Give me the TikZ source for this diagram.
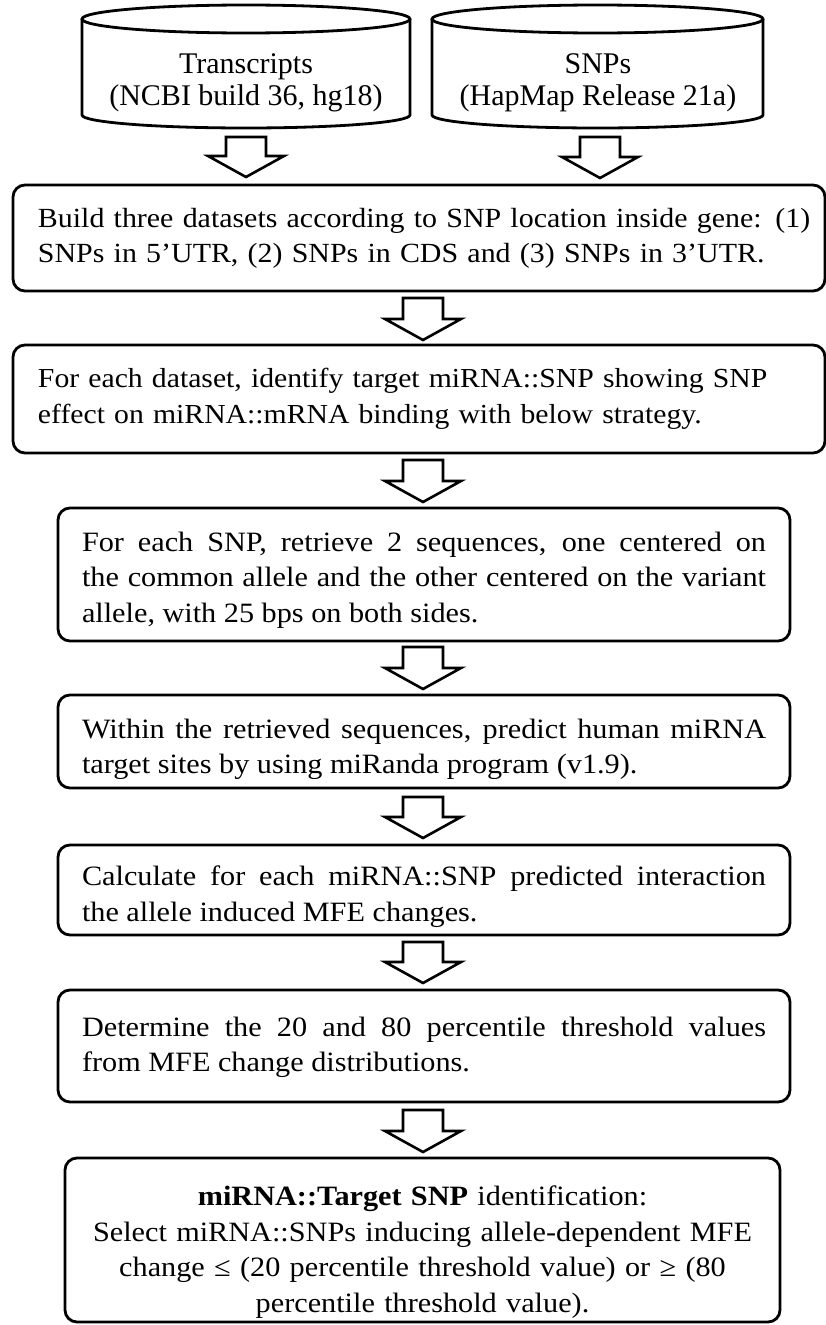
\documentclass[tikz,border=0pt]{standalone}
\usepackage{fontspec}
\setmainfont[FakeStretch=1.08]{Liberation Serif}
\newfontfamily\cylfont{Liberation Serif}
\usetikzlibrary{calc}
\newcommand{\blockarr}[2]{%
  \draw[barrow] let \p1=#1, \p2=#2 in
    (\x1-20pt,\y1) -- (\x1+20pt,\y1) -- (\x1+20pt,\y2+21pt) -- (\x1+38pt,\y2+21pt)
    -- (\x1,\y2) -- (\x1-38pt,\y2+21pt) -- (\x1-20pt,\y2+21pt) -- cycle;}
\newcommand{\lift}[1]{\rule{0pt}{\dimexpr 20pt+#1\relax}}
\begin{document}
\begin{tikzpicture}[x=1pt,y=-1pt,
  txt/.style={font=\fontsize{28pt}{35.5pt}\selectfont},
  cyltxt/.style={font=\cylfont\fontsize{30pt}{32pt}\selectfont, align=center},
  box/.style={txt, draw, line width=2.8pt, rounded corners=12pt, outer sep=0pt,
    inner ysep=0pt, anchor=north west},
  cyl/.style={draw, line width=2.8pt},
  barrow/.style={draw, line width=2.6pt, line join=miter, fill=white}]
\useasboundingbox (0,0) rectangle (826,1325);
% databases
\draw[cyl] (82,19) -- (82,115) arc[start angle=180, end angle=360, x radius=164pt, y radius=13pt] -- (410,19);
\draw[cyl] (246,19) ellipse[x radius=164pt, y radius=14pt];
\node[cyltxt] (c1) at (246,83) {Transcripts\\(NCBI build 36, hg18)};
\coordinate (c1b) at (246,128);
\draw[cyl] (432,19) -- (432,115) arc[start angle=180, end angle=360, x radius=165.5pt, y radius=13pt] -- (763,19);
\draw[cyl] (597.5,19) ellipse[x radius=165.5pt, y radius=14pt];
\node[cyltxt] (c2) at (598,83) {SNPs\\(HapMap Release 21a)};
\coordinate (c2b) at (600,128);
% boxes
\node[box, font=\fontsize{27.7pt}{35pt}\selectfont, minimum width=812pt, minimum height=106pt, text width=800pt, inner xsep=6pt, align=left] (b1) at (13,185)
  {\hspace*{19pt}Build three datasets according to SNP location inside gene: (1)\\\hspace*{19pt}SNPs in 5’UTR, (2) SNPs in CDS and (3) SNPs in 3’UTR.};
\node[box, font=\fontsize{27.5pt}{36pt}\selectfont, minimum width=812pt, minimum height=108pt, text width=800pt, inner xsep=6pt, align=left] (b2) at (13,345)
  {\hspace*{19pt}For each dataset, identify target miRNA::SNP showing SNP\\\hspace*{19pt}effect on miRNA::mRNA binding with below strategy.};
\node[box, minimum width=732pt, minimum height=133pt, text width=684pt, inner xsep=24pt, align=justify] (b3) at (58,508)
  {\lift{10pt}For each SNP, retrieve 2 sequences, one centered on\linebreak the common allele and the other centered on the variant\linebreak allele, with 25 bps on both sides.};
\node[box, minimum width=732pt, minimum height=93pt, text width=684pt, inner xsep=24pt, align=justify] (b4) at (58,695)
  {\lift{15pt}Within the retrieved sequences, predict human miRNA\linebreak target sites by using miRanda program (v1.9).};
\node[box, minimum width=732pt, minimum height=90pt, text width=684pt, inner xsep=24pt, align=justify] (b5) at (58,845)
  {\lift{13pt}Calculate for each miRNA::SNP predicted interaction\linebreak the allele induced MFE changes.};
\node[box, minimum width=732pt, minimum height=112pt, text width=684pt, inner xsep=24pt, align=justify] (b6) at (58,990)
  {\lift{2pt}Determine the 20 and 80 percentile threshold values\linebreak from MFE change distributions.};
\node[box, minimum width=715pt, minimum height=164pt, text width=680pt, inner xsep=17.5pt, align=center] (b7) at (65,1158)
  {\lift{24pt}\textbf{miRNA::Target SNP} identification:\\Select miRNA::SNPs inducing allele-dependent MFE\\change ≤ (20 percentile threshold value) or ≥ (80\\percentile threshold value).};
% arrows
\coordinate (ax) at (423,0);
\blockarr{($(c1b)+(0,9)$)}{($(b1.north -| c1b)+(0,-8)$)}
\blockarr{($(c2b)+(0,9)$)}{($(b1.north -| c2b)+(0,-7)$)}
\blockarr{($(b1.south -| ax)+(0,7)$)}{($(b2.north -| ax)+(0,-5)$)}
\blockarr{($(b2.south -| ax)+(0,7)$)}{($(b3.north -| ax)+(0,-6)$)}
\blockarr{($(b3.south -| ax)+(0,6)$)}{($(b4.north -| ax)+(0,-6)$)}
\blockarr{($(b4.south -| ax)+(0,9)$)}{($(b5.north -| ax)+(0,-7)$)}
\blockarr{($(b5.south -| ax)+(0,7)$)}{($(b6.north -| ax)+(0,-7)$)}
\blockarr{($(b6.south -| ax)+(0,8)$)}{($(b7.north -| ax)+(0,-6)$)}
\end{tikzpicture}
\end{document}
